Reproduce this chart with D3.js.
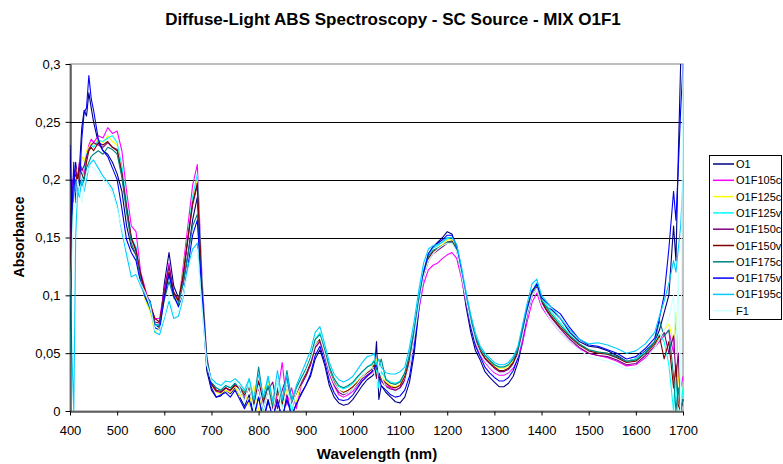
<!DOCTYPE html>
<html>
<head>
<meta charset="utf-8">
<script src="https://cdn.jsdelivr.net/npm/d3@7"></script>
<style>
  body { margin: 0; background: #fff; }
  text { font-family: Arial, "Liberation Sans", sans-serif; }
</style>
</head>
<body>
<svg id="chart" width="783" height="464"></svg>
<script>
// wavelength grid (nm), shared by all series
const wavelengths = [
  400,404,408,412,416,420,425,430,435,440,
  445,450,460,470,480,490,500,510,520,530,
  540,550,560,570,580,590,600,610,620,630,
  640,650,660,670,680,690,700,710,720,730,
  740,750,760,770,780,790,800,810,820,830,
  840,850,860,870,880,890,900,910,920,930,
  940,950,960,970,980,990,1000,1010,1020,1030,
  1040,1045,1050,1055,1060,1070,1080,1090,1100,1110,
  1120,1130,1140,1150,1160,1170,1180,1190,1200,1210,
  1220,1230,1240,1250,1260,1270,1280,1290,1300,1310,
  1320,1330,1340,1350,1360,1370,1380,1390,1400,1410,
  1420,1440,1460,1480,1500,1520,1540,1560,1580,1600,
  1620,1640,1650,1660,1670,1680,1685,1690,1695,1700]

const O1 = [
  0.14,0.2,0.19,0.215,0.2,0.21,0.245,0.26,0.255,0.275,
  0.262,0.25,0.232,0.225,0.222,0.215,0.205,0.19,0.16,0.142,
  0.135,0.117,0.1,0.095,0.075,0.072,0.11,0.137,0.108,0.098,
  0.11,0.135,0.165,0.185,0.1,0.035,0.018,0.012,0.013,0.018,
  0.015,0.02,0.012,0.004,0.014,-0.004,0.012,-0.008,0.01,-0.006,
  0.01,-0.008,0.014,-0.004,0.006,0.015,0.022,0.03,0.045,0.053,
  0.04,0.022,0.012,0.007,0.005,0.006,0.01,0.016,0.022,0.027,
  0.03,0.032,0.06,0.01,0.022,0.016,0.012,0.008,0.007,0.012,
  0.025,0.05,0.088,0.118,0.136,0.142,0.146,0.15,0.155,0.153,
  0.14,0.118,0.09,0.068,0.052,0.044,0.034,0.029,0.025,0.021,
  0.021,0.024,0.03,0.042,0.06,0.084,0.1,0.108,0.095,0.09,
  0.088,0.08,0.068,0.06,0.056,0.055,0.052,0.048,0.043,0.045,
  0.052,0.06,0.07,0.085,0.1,0.16,0.13,0.22,0.3,0.31]

const O1F105c = [
  0.12,0.19,0.205,0.21,0.2,0.215,0.21,0.205,0.22,0.23,
  0.235,0.232,0.238,0.236,0.245,0.24,0.242,0.225,0.19,0.16,
  0.155,0.12,0.105,0.092,0.08,0.08,0.105,0.128,0.1,0.092,
  0.125,0.16,0.195,0.213,0.115,0.048,0.024,0.018,0.016,0.02,
  0.017,0.022,0.02,0.012,0.022,0.004,0.025,0.006,0.02,0.0,
  0.014,0.042,0.005,0.02,0.002,0.022,0.03,0.04,0.055,0.06,
  0.048,0.032,0.022,0.014,0.012,0.014,0.017,0.021,0.026,0.03,
  0.033,0.036,0.03,0.032,0.027,0.022,0.02,0.018,0.02,0.026,
  0.04,0.062,0.088,0.11,0.122,0.126,0.128,0.132,0.135,0.137,
  0.132,0.115,0.094,0.074,0.058,0.048,0.042,0.037,0.033,0.031,
  0.031,0.033,0.037,0.046,0.06,0.078,0.094,0.102,0.09,0.084,
  0.078,0.068,0.06,0.054,0.05,0.048,0.046,0.043,0.039,0.04,
  0.046,0.055,0.06,0.065,0.07,0.05,0.08,0.03,0.02,0.03]

const O1F125c = [
  0.07,0.18,0.195,0.205,0.21,0.2,0.22,0.215,0.225,0.228,
  0.232,0.23,0.235,0.232,0.238,0.233,0.23,0.21,0.178,0.148,
  0.14,0.112,0.095,0.086,0.068,0.072,0.1,0.12,0.1,0.095,
  0.12,0.152,0.183,0.2,0.108,0.045,0.022,0.016,0.015,0.018,
  0.016,0.021,0.012,0.018,0.004,0.022,0.0,0.018,0.026,0.006,
  0.02,0.002,0.018,0.01,0.008,0.024,0.032,0.042,0.057,0.063,
  0.05,0.035,0.025,0.018,0.016,0.018,0.021,0.026,0.03,0.034,
  0.038,0.04,0.045,0.03,0.03,0.025,0.022,0.021,0.023,0.03,
  0.046,0.068,0.095,0.118,0.132,0.138,0.141,0.144,0.148,0.148,
  0.14,0.12,0.098,0.078,0.062,0.052,0.046,0.042,0.039,0.037,
  0.037,0.039,0.043,0.052,0.07,0.088,0.102,0.108,0.096,0.09,
  0.084,0.074,0.065,0.058,0.053,0.051,0.05,0.046,0.043,0.044,
  0.05,0.058,0.064,0.07,0.075,0.06,0.085,0.03,0.01,0.02]

const O1F125v = [
  0.05,0.15,0.19,0.2,0.185,0.195,0.2,0.21,0.222,0.225,
  0.23,0.228,0.234,0.233,0.236,0.238,0.232,0.212,0.18,0.15,
  0.142,0.115,0.098,0.088,0.074,0.074,0.1,0.118,0.098,0.093,
  0.118,0.152,0.185,0.205,0.11,0.046,0.025,0.02,0.018,0.022,
  0.02,0.024,0.018,0.01,0.028,0.004,0.022,0.0,0.03,0.008,
  0.026,0.004,0.03,-0.002,0.02,0.028,0.035,0.046,0.062,0.068,
  0.054,0.038,0.028,0.021,0.019,0.021,0.024,0.029,0.034,0.038,
  0.041,0.044,0.035,0.02,0.034,0.028,0.025,0.024,0.026,0.033,
  0.05,0.072,0.1,0.122,0.136,0.141,0.143,0.146,0.149,0.15,
  0.143,0.123,0.1,0.08,0.064,0.054,0.048,0.044,0.04,0.038,
  0.038,0.04,0.045,0.054,0.072,0.09,0.104,0.111,0.098,0.092,
  0.086,0.076,0.066,0.058,0.053,0.051,0.049,0.046,0.043,0.045,
  0.051,0.06,0.066,0.06,0.04,0.0,0.03,-0.01,0.0,0.02]

const O1F150c = [
  0.09,0.17,0.2,0.21,0.2,0.215,0.208,0.212,0.22,0.226,
  0.23,0.232,0.23,0.228,0.232,0.228,0.226,0.206,0.176,0.149,
  0.14,0.116,0.1,0.09,0.077,0.076,0.104,0.125,0.103,0.096,
  0.115,0.148,0.178,0.195,0.104,0.044,0.023,0.017,0.016,0.02,
  0.018,0.023,0.019,0.01,0.022,0.006,0.02,0.002,0.018,0.025,
  0.002,0.018,0.03,0.006,0.016,0.023,0.03,0.04,0.055,0.06,
  0.048,0.033,0.023,0.016,0.014,0.016,0.019,0.023,0.028,0.031,
  0.034,0.037,0.028,0.03,0.026,0.021,0.019,0.018,0.02,0.027,
  0.042,0.066,0.093,0.116,0.13,0.136,0.139,0.142,0.145,0.146,
  0.139,0.119,0.097,0.077,0.061,0.051,0.045,0.041,0.037,0.034,
  0.034,0.036,0.041,0.05,0.068,0.086,0.1,0.106,0.094,0.087,
  0.081,0.071,0.062,0.055,0.05,0.048,0.047,0.044,0.04,0.041,
  0.048,0.056,0.062,0.068,0.05,0.065,0.03,0.05,0.0,0.01]

const O1F150v = [
  0.08,0.17,0.2,0.205,0.198,0.21,0.205,0.2,0.215,0.225,
  0.228,0.225,0.232,0.23,0.233,0.228,0.225,0.205,0.175,0.15,
  0.138,0.118,0.103,0.092,0.08,0.077,0.1,0.12,0.102,0.095,
  0.118,0.15,0.18,0.197,0.105,0.045,0.024,0.018,0.017,0.02,
  0.018,0.022,0.02,0.014,0.02,0.006,0.026,0.008,0.02,0.002,
  0.018,0.006,0.022,0.008,0.015,0.025,0.032,0.042,0.058,0.062,
  0.05,0.035,0.025,0.018,0.016,0.018,0.021,0.025,0.03,0.033,
  0.036,0.04,0.03,0.033,0.028,0.024,0.021,0.02,0.022,0.03,
  0.045,0.068,0.095,0.118,0.132,0.138,0.14,0.143,0.146,0.147,
  0.14,0.12,0.098,0.078,0.062,0.052,0.046,0.042,0.038,0.035,
  0.035,0.037,0.042,0.052,0.072,0.09,0.104,0.108,0.095,0.088,
  0.082,0.072,0.064,0.057,0.052,0.05,0.049,0.046,0.042,0.043,
  0.05,0.058,0.065,0.045,0.06,0.02,0.04,0.005,0.0,0.01]

const O1F175c = [
  0.07,0.16,0.195,0.2,0.19,0.2,0.195,0.2,0.21,0.215,
  0.22,0.222,0.225,0.222,0.228,0.226,0.222,0.202,0.172,0.145,
  0.135,0.113,0.098,0.088,0.075,0.074,0.096,0.112,0.098,0.092,
  0.11,0.135,0.16,0.17,0.1,0.044,0.025,0.02,0.018,0.022,
  0.02,0.024,0.021,0.016,0.022,0.008,0.038,0.01,0.022,0.004,
  0.02,0.008,0.035,0.01,0.02,0.028,0.036,0.046,0.062,0.066,
  0.053,0.038,0.028,0.022,0.02,0.022,0.025,0.03,0.034,0.038,
  0.04,0.043,0.036,0.038,0.045,0.027,0.024,0.023,0.025,0.033,
  0.048,0.07,0.097,0.12,0.134,0.139,0.141,0.143,0.146,0.146,
  0.14,0.121,0.1,0.08,0.064,0.054,0.048,0.044,0.04,0.038,
  0.038,0.04,0.045,0.054,0.072,0.09,0.103,0.109,0.096,0.09,
  0.084,0.074,0.065,0.058,0.053,0.051,0.05,0.047,0.043,0.044,
  0.05,0.06,0.078,0.065,0.07,0.03,0.0,0.02,0.0,0.01]

const O1F175v = [
  0.23,0.17,0.215,0.18,0.2,0.195,0.235,0.258,0.262,0.29,
  0.27,0.26,0.235,0.225,0.22,0.21,0.2,0.175,0.148,0.137,
  0.13,0.11,0.098,0.09,0.072,0.07,0.098,0.118,0.1,0.09,
  0.1,0.125,0.152,0.165,0.1,0.04,0.02,0.012,0.014,0.016,
  0.012,0.018,0.01,0.002,0.01,-0.006,0.012,-0.008,0.008,-0.004,
  0.008,-0.006,0.01,-0.004,0.006,0.014,0.022,0.032,0.048,0.056,
  0.043,0.026,0.016,0.01,0.009,0.01,0.014,0.02,0.026,0.03,
  0.034,0.037,0.04,0.03,0.022,0.018,0.014,0.012,0.013,0.018,
  0.03,0.055,0.09,0.12,0.136,0.142,0.145,0.148,0.152,0.152,
  0.143,0.122,0.096,0.072,0.056,0.047,0.038,0.033,0.029,0.026,
  0.026,0.029,0.035,0.046,0.066,0.088,0.103,0.11,0.098,0.094,
  0.09,0.084,0.072,0.062,0.057,0.056,0.053,0.05,0.045,0.047,
  0.054,0.063,0.08,0.1,0.14,0.19,0.165,0.21,0.26,0.3]

const O1F195c = [
  0.12,0.05,0.0,0.15,0.19,0.185,0.2,0.19,0.2,0.212,
  0.215,0.217,0.21,0.203,0.198,0.192,0.178,0.155,0.135,0.116,
  0.118,0.108,0.1,0.094,0.068,0.066,0.08,0.095,0.08,0.082,
  0.098,0.125,0.14,0.145,0.09,0.04,0.028,0.024,0.022,0.026,
  0.025,0.028,0.024,0.018,0.028,0.01,0.032,0.012,0.03,0.008,
  0.035,0.01,0.032,0.008,0.022,0.032,0.042,0.052,0.068,0.073,
  0.058,0.042,0.032,0.027,0.025,0.027,0.03,0.036,0.042,0.047,
  0.048,0.05,0.04,0.045,0.038,0.033,0.032,0.032,0.034,0.038,
  0.055,0.078,0.105,0.128,0.14,0.143,0.144,0.146,0.15,0.15,
  0.144,0.125,0.103,0.083,0.067,0.056,0.05,0.046,0.042,0.04,
  0.04,0.042,0.047,0.056,0.075,0.094,0.11,0.114,0.1,0.095,
  0.09,0.08,0.07,0.062,0.058,0.059,0.057,0.054,0.05,0.052,
  0.058,0.068,0.082,0.095,0.11,0.13,0.12,0.14,0.16,0.2]

const F1 = [
  0.1,0.14,0.18,0.175,0.2,0.19,0.18,0.195,0.205,0.21,
  0.212,0.21,0.205,0.2,0.195,0.188,0.175,0.158,0.14,0.125,
  0.12,0.11,0.102,0.09,0.07,0.07,0.082,0.1,0.085,0.086,
  0.1,0.12,0.135,0.14,0.088,0.04,0.026,0.022,0.02,0.024,
  0.022,0.026,0.02,0.008,0.024,0.0,0.022,0.002,0.018,-0.002,
  0.025,0.0,0.022,0.004,0.016,0.026,0.034,0.044,0.058,0.064,
  0.05,0.034,0.024,0.018,0.015,0.016,0.019,0.024,0.03,0.034,
  0.038,0.035,0.02,0.04,0.03,0.02,0.017,0.016,0.018,0.024,
  0.04,0.064,0.092,0.116,0.13,0.136,0.14,0.143,0.145,0.145,
  0.138,0.118,0.096,0.076,0.06,0.05,0.043,0.038,0.034,0.032,
  0.032,0.034,0.039,0.048,0.066,0.085,0.1,0.106,0.092,0.085,
  0.078,0.068,0.06,0.053,0.047,0.045,0.043,0.04,0.036,0.037,
  0.044,0.055,0.062,0.07,0.08,0.1,0.05,0.12,0.0,0.3]

const seriesNames = ['O1','O1F105c','O1F125c','O1F125v','O1F150c','O1F150v','O1F175c','O1F175v','O1F195c','F1']
const seriesValues = [O1, O1F105c, O1F125c, O1F125v, O1F150c, O1F150v, O1F175c, O1F175v, O1F195c, F1]
const seriesColors = ['#000080','#ff00ff','#ffff00','#00ffff','#800080','#800000','#008080','#0000ff','#00ccff','#ccffff']

const xTicks = [400,500,600,700,800,900,1000,1100,1200,1300,1400,1500,1600,1700]
const yTicks = [0,0.05,0.1,0.15,0.2,0.25,0.3]

const PLOT = {left: 70, right: 683, top: 64, bottom: 411}

let svg = d3.select('#chart')

let x = d3.scaleLinear().domain([400, 1700]).range([PLOT.left, PLOT.right])
let y = d3.scaleLinear().domain([0, 0.3]).range([PLOT.bottom, PLOT.top])
let fmt = d => String(d).replace('.', ',')

// title
svg.append('text')
  .attr('x', 393).attr('y', 25)
  .attr('text-anchor', 'middle')
  .style('font-weight', 'bold').style('font-size', '17px')
  .text('Diffuse-Light ABS Spectroscopy - SC Source - MIX O1F1')

// plot border (top and right in gray)
svg.append('rect')
  .attr('x', PLOT.left).attr('y', PLOT.top)
  .attr('width', PLOT.right - PLOT.left).attr('height', PLOT.bottom - PLOT.top)
  .attr('fill', 'none').attr('stroke', '#808080').attr('stroke-width', 1)

// gridlines
svg.append('g')
  .selectAll('line')
  .data(yTicks.filter(d => d > 0 && d < 0.3))
  .join('line')
  .attr('x1', PLOT.left).attr('x2', PLOT.right)
  .attr('y1', d => Math.round(y(d)) + 0.5).attr('y2', d => Math.round(y(d)) + 0.5)
  .attr('stroke', '#000').attr('stroke-width', 1)

svg.append('clipPath').attr('id', 'plotClip')
  .append('rect')
  .attr('x', PLOT.left).attr('y', PLOT.top)
  .attr('width', PLOT.right - PLOT.left + 1).attr('height', PLOT.bottom - PLOT.top)

let line = d3.line()
  .x((d, i) => x(wavelengths[i]))
  .y(d => y(d))

svg.append('g')
  .attr('clip-path', 'url(#plotClip)')
  .selectAll('path')
  .data(seriesValues)
  .join('path')
  .attr('d', d => line(d))
  .attr('fill', 'none')
  .attr('stroke', (d, i) => seriesColors[i])
  .attr('stroke-width', 1.1)
  .attr('stroke-linejoin', 'round')

// axes
let xAxis = svg.append('g')
  .attr('transform', 'translate(0,' + (PLOT.bottom + 0.5) + ')')
  .call(d3.axisBottom(x).tickValues(xTicks).tickSize(4).tickSizeOuter(0).tickFormat(d => d))
xAxis.select('.domain').attr('stroke', '#000')
xAxis.selectAll('.tick text')
  .attr('dy', '0.71em').attr('y', 14)
  .style('font-size', '13px').style('fill', '#000')
  .style('font-family', 'Arial, "Liberation Sans", sans-serif')

let yAxis = svg.append('g')
  .attr('transform', 'translate(' + (PLOT.left + 0.5) + ',0)')
  .call(d3.axisLeft(y).tickValues(yTicks).tickSize(5).tickSizeOuter(0).tickFormat(fmt))
yAxis.select('.domain').attr('stroke', '#000')
yAxis.selectAll('.tick text')
  .attr('x', -10)
  .style('font-size', '13px').style('fill', '#000')
  .style('font-family', 'Arial, "Liberation Sans", sans-serif')

// axis titles
svg.append('text')
  .attr('x', 377).attr('y', 459)
  .attr('text-anchor', 'middle')
  .style('font-weight', 'bold').style('font-size', '15px')
  .text('Wavelength (nm)')

svg.append('text')
  .attr('transform', 'translate(24,237) rotate(-90)')
  .attr('text-anchor', 'middle')
  .style('font-weight', 'bold').style('font-size', '14px')
  .text('Absorbance')

// legend
let legend = svg.append('g')
legend.append('rect')
  .attr('x', 709.5).attr('y', 155.5)
  .attr('width', 72).attr('height', 164)
  .attr('fill', '#fff').attr('stroke', '#000').attr('stroke-width', 1)

let item = legend.selectAll('g.item')
  .data(seriesNames)
  .join('g')
  .attr('class', 'item')
  .attr('transform', (d, i) => 'translate(0,' + (164 + i * 16.3) + ')')

item.append('line')
  .attr('x1', 713).attr('x2', 734)
  .attr('stroke', (d, i) => seriesColors[i]).attr('stroke-width', 1.5)

item.append('text')
  .attr('x', 736).attr('y', 4)
  .style('font-size', '11px')
  .text(d => d)
</script>
</body>
</html>
